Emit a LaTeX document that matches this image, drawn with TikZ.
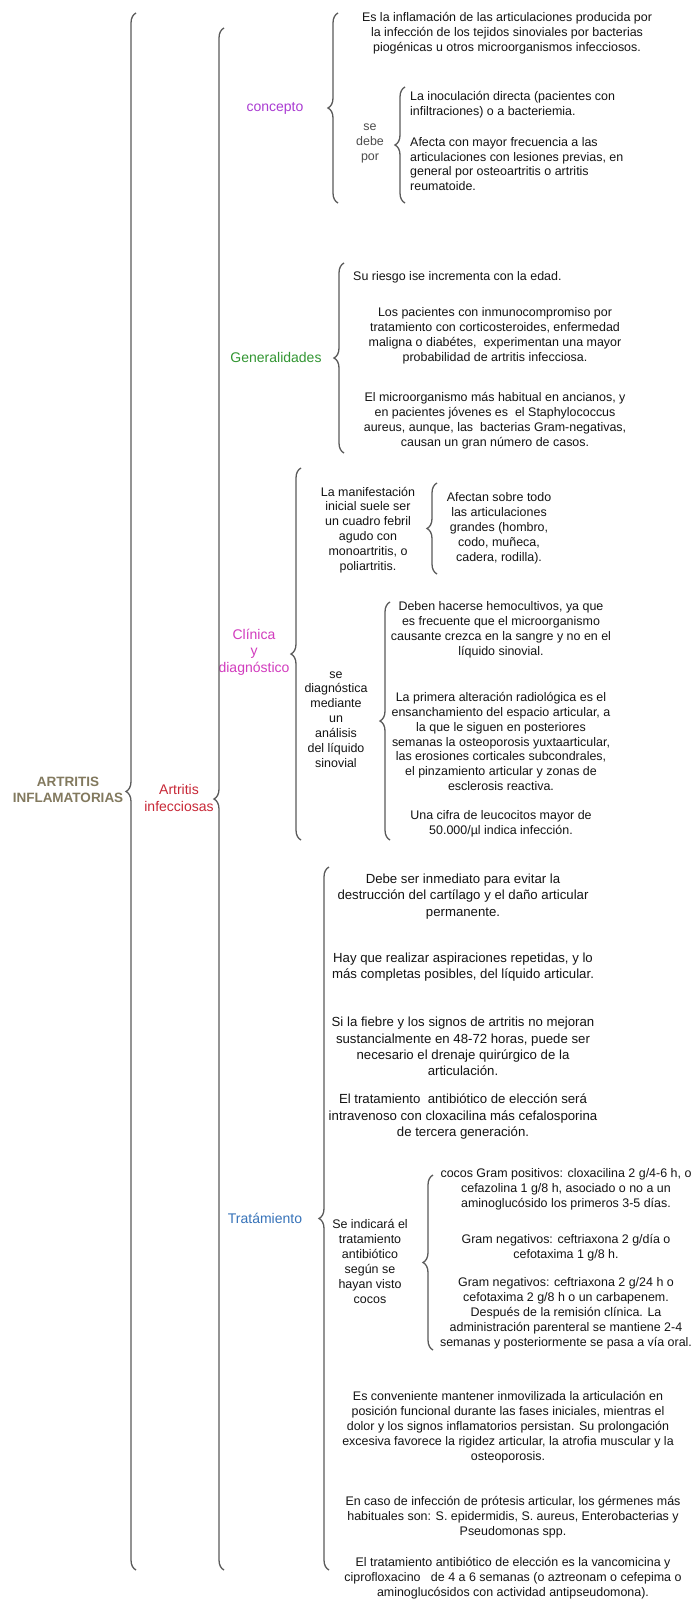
\documentclass[tikz,border=0pt]{standalone}
\usepackage{fontspec}
\setmainfont{Liberation Sans}
\usetikzlibrary{decorations.pathreplacing, positioning}
\definecolor{artcol}{RGB}{130,121,94}
\definecolor{infcol}{RGB}{200,40,55}
\definecolor{concol}{RGB}{170,60,210}
\definecolor{gencol}{RGB}{50,150,50}
\definecolor{clicol}{RGB}{210,60,190}
\definecolor{tracol}{RGB}{55,115,185}
\definecolor{txtcol}{RGB}{20,20,20}
\definecolor{brcol}{RGB}{90,90,90}

\begin{document}
\begin{tikzpicture}[x=1pt, y=-1pt,
  brc/.style={draw=brcol, line width=1.3pt, decorate, decoration={brace, amplitude=10pt}},
  lbl/.style={align=center, inner sep=0pt, font=\fontsize{14}{16.5}\selectfont},
  txt/.style={align=center, inner sep=0pt, text=txtcol, font=\fontsize{12.45}{14.9}\selectfont},
  big/.style={txt, font=\fontsize{13.2}{16.3}\selectfont},
  lft/.style={txt, align=left, anchor=west}]
  \fill[white] (0,0) rectangle (692,1600);
  \useasboundingbox (0,0) rectangle (692,1600);

  % titles
  \node[lbl, text=artcol, font=\bfseries\fontsize{13.5}{15.7}\selectfont] (art) at (68,789.5) {ARTRITIS\\INFLAMATORIAS};
  \node[lbl, text=infcol] (inf) at (179,798) {Artritis\\infecciosas};
  \node[lbl, text=concol] (conc) at (275,108) {concepto};
  \node[lbl, text=gencol] (gen) at (276,357) {Generalidades};
  \node[lbl, text=clicol] (clin) at (254,652) {Clínica\\y\\diagnóstico};
  \node[lbl, text=tracol] (trat) at (265,1218) {Tratámiento};

  % concepto
  \node[txt] (def) at (507,33) {Es la inflamación de las articulaciones producida por\\la infección de los tejidos sinoviales por bacterias\\piogénicas u otros microorganismos infecciosos.};
  \node[txt, text=black!70] (debe) at (370,143.5) {se\\debe\\por};
  \node[lft] (inoc) at (410,104.5) {La inoculación directa (pacientes con\\infiltraciones) o a bacteriemia.};
  \node[lft] (afec) at (410,164) {Afecta con mayor frecuencia a las\\articulaciones con lesiones previas, en\\general por osteoartritis o artritis\\reumatoide.};

  % generalidades
  \node[lft] (riesgo) at (353,277) {Su riesgo ise incrementa con la edad.};
  \node[txt] (inmu) at (495,335.5) {Los pacientes con inmunocompromiso por\\tratamiento con corticosteroides, enfermedad\\maligna o diabétes,\ \ experimentan una mayor\\probabilidad de artritis infecciosa.};
  \node[txt] (micro) at (495,421) {El microorganismo más habitual en ancianos, y\\en pacientes jóvenes es\ \ el Staphylococcus\\aureus, aunque, las\ \ bacterias Gram-negativas,\\causan un gran número de casos.};

  % clinica y diagnostico
  \node[txt] (manif) at (368,530) {La manifestación\\inicial suele ser\\un cuadro febril\\agudo con\\monoartritis, o\\poliartritis.};
  \node[txt] (grandes) at (499,528) {Afectan sobre todo\\las articulaciones\\grandes (hombro,\\codo, muñeca,\\cadera, rodilla).};
  \node[txt] (diag) at (336,719.5) {se\\diagnóstica\\mediante\\un\\análisis\\del líquido\\sinovial};
  \node[txt] (hemo) at (501,630) {Deben hacerse hemocultivos, ya que\\es frecuente que el microorganismo\\causante crezca en la sangre y no en el\\líquido sinovial.};
  \node[txt] (radio) at (501,741.5) {La primera alteración radiológica es el\\ensanchamiento del espacio articular, a\\la que le siguen en posteriores\\semanas la osteoporosis yuxtaarticular,\\las erosiones corticales subcondrales,\\el pinzamiento articular y zonas de\\esclerosis reactiva.};
  \node[txt] (leuco) at (501,823.5) {Una cifra de leucocitos mayor de\\50.000/µl indica infección.};

  % tratamiento
  \node[big] (inmed) at (463,896.5) {Debe ser inmediato para evitar la\\destrucción del cartílago y el daño articular\\permanente.};
  \node[big] (aspir) at (463,967) {Hay que realizar aspiraciones repetidas, y lo\\más completas posibles, del líquido articular.};
  \node[big] (fiebre) at (463,1046.5) {Si la fiebre y los signos de artritis no mejoran\\sustancialmente en 48-72 horas, puede ser\\necesario el drenaje quirúrgico de la\\articulación.};
  \node[big] (elec) at (463,1116.5) {El tratamiento\ \ antibiótico de elección será\\intravenoso con cloxacilina más cefalosporina\\de tercera generación.};
  \node[txt] (indic) at (370,1261.5) {Se indicará el\\tratamiento\\antibiótico\\según se\\hayan visto\\cocos};
  \node[txt] (gpos) at (566,1189) {cocos Gram positivos: cloxacilina 2 g/4-6 h, o\\cefazolina 1 g/8 h, asociado o no a un\\aminoglucósido los primeros 3-5 días.};
  \node[txt] (gneg) at (566,1247.5) {Gram negativos: ceftriaxona 2 g/día o\\cefotaxima 1 g/8 h.};
  \node[txt] (gneg2) at (566,1313) {Gram negativos: ceftriaxona 2 g/24 h o\\cefotaxima 2 g/8 h o un carbapenem.\\Después de la remisión clínica. La\\administración parenteral se mantiene 2-4\\semanas y posteriormente se pasa a vía oral.};
  \node[txt] (inmov) at (508,1427) {Es conveniente mantener inmovilizada la articulación en\\posición funcional durante las fases iniciales, mientras el\\dolor y los signos inflamatorios persistan. Su prolongación\\excesiva favorece la rigidez articular, la atrofia muscular y la\\osteoporosis.};
  \node[txt] (protes) at (513,1517) {En caso de infección de prótesis articular, los gérmenes más\\habituales son: S. epidermidis, S. aureus, Enterobacterias y\\Pseudomonas spp.};
  \node[txt] (vanco) at (513,1578) {El tratamiento antibiótico de elección es la vancomicina y\\ciprofloxacino\ \ \ de 4 a 6 semanas (o aztreonam o cefepima o\\aminoglucósidos con actividad antipseudomona).};

  % brace ends
  \coordinate (artT) at (136,13);   \coordinate (artB) at (136,1570);
  \coordinate (infT) at (224,28);   \coordinate (infB) at (224,1570);
  \coordinate (concT) at (338,13);  \coordinate (concB) at (338,203);
  \coordinate (debeT) at (405,87);  \coordinate (debeB) at (405,203);
  \coordinate (genT) at (344,263);  \coordinate (genB) at (344,453);
  \coordinate (clinT) at (301,468); \coordinate (clinB) at (301,840);
  \coordinate (manT) at (437,483);  \coordinate (manB) at (437,574);
  \coordinate (diagT) at (390,602); \coordinate (diagB) at (390,840);
  \coordinate (tratT) at (329,867); \coordinate (tratB) at (329,1570);
  \coordinate (indT) at (433,1175); \coordinate (indB) at (433,1350);

  \draw[brc] (artB) -- (artT);
  \draw[brc] (infB) -- (infT);
  \draw[brc] (concB) -- (concT);
  \draw[brc] (debeB) -- (debeT);
  \draw[brc] (genB) -- (genT);
  \draw[brc] (clinB) -- (clinT);
  \draw[brc] (manB) -- (manT);
  \draw[brc] (diagB) -- (diagT);
  \draw[brc] (tratB) -- (tratT);
  \draw[brc] (indB) -- (indT);
\end{tikzpicture}
\end{document}
